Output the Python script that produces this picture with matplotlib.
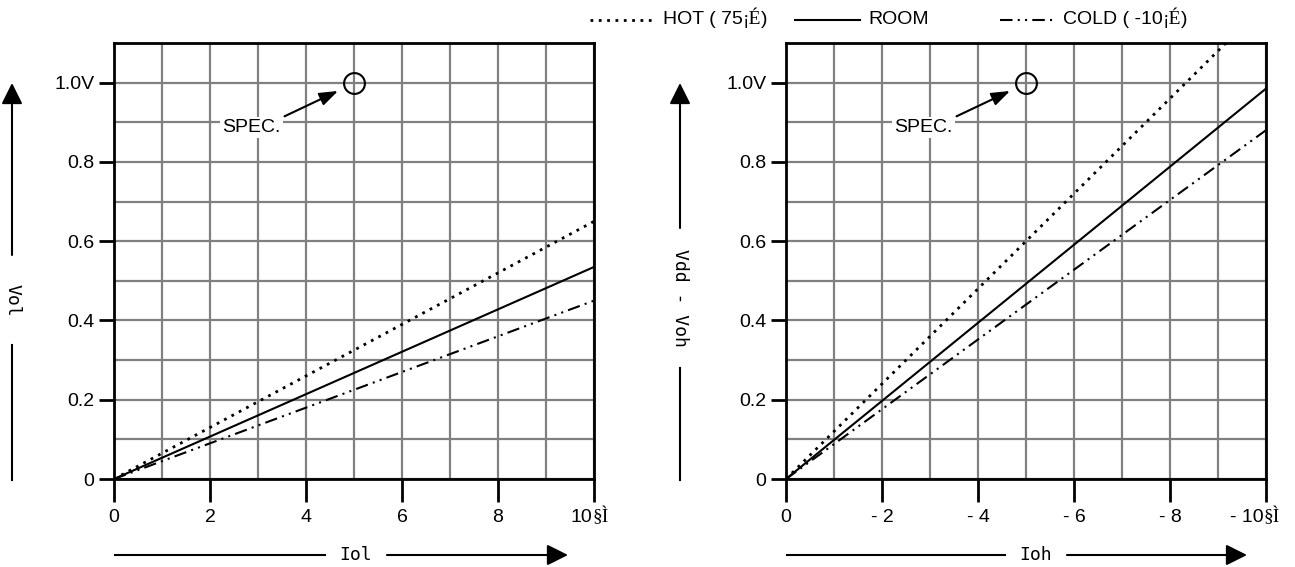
import matplotlib
matplotlib.use("Agg")
import matplotlib.pyplot as plt
from matplotlib.lines import Line2D
import numpy as np

# ---------------- data ----------------
x_pts = [0, 2, 4, 6, 8, 10]
left_hot = [0, 0.13, 0.26, 0.39, 0.52, 0.65]
left_room = [0, 0.107, 0.214, 0.321, 0.428, 0.535]
left_cold = [0, 0.09, 0.18, 0.27, 0.36, 0.45]
right_hot = [0, 0.24, 0.48, 0.72, 0.96, 1.20]
right_room = [0, 0.197, 0.394, 0.591, 0.788, 0.985]
right_cold = [0, 0.176, 0.352, 0.528, 0.704, 0.88]

xticks = [0, 2, 4, 6, 8, 10]
left_xticklabels = ["0", "2", "4", "6", "8", ""]
right_xticklabels = ["0", "- 2", "- 4", "- 6", "- 8", ""]
yticks = [0, 0.2, 0.4, 0.6, 0.8, 1.0]
yticklabels = ["0", "0.2", "0.4", "0.6", "0.8", "1.0V"]
spec_point = (5, 1.0)

W, H = 1295, 567
SANS = "Liberation Sans"
SERIF = "Liberation Serif"
MONO = "DejaVu Sans Mono"
FS = 14

fig = plt.figure(figsize=(W / 100, H / 100), dpi=100)

def fx(px):
    return px / W

def fy(py):
    return 1 - py / H

styles = {
    "hot": dict(color="black", lw=2.0, linestyle=(0, (1, 2))),
    "room": dict(color="black", lw=1.5, linestyle="-"),
    "cold": dict(color="black", lw=1.5, linestyle=(0, (6, 2.5, 1, 2.5, 1, 2.5))),
}

def make_axes(left_px, xtl, hot, room, cold):
    ax = fig.add_axes([fx(left_px), fy(479), 480 / W, 436 / H])
    ax.set_xlim(0, 10)
    ax.set_ylim(0, 1.1)
    ax.set_xticks(np.arange(0, 11, 1), minor=True)
    ax.set_yticks(np.arange(0, 1.11, 0.1), minor=True)
    ax.grid(which="both", color="#808080", lw=1.6)
    ax.tick_params(which="minor", length=0)
    ax.set_xticks(xticks)
    ax.set_xticklabels(xtl, fontsize=FS, fontfamily=SANS)
    ax.set_yticks(yticks)
    ax.set_yticklabels(yticklabels, fontsize=FS, fontfamily=SANS)
    ax.tick_params(axis="x", which="major", length=16.5, width=2, pad=5, direction="out")
    ax.tick_params(axis="y", which="major", length=11, width=2, pad=3, direction="out")
    for sp in ax.spines.values():
        sp.set_linewidth(2)
        sp.set_color("black")
    ax.set_axisbelow(True)
    ax.plot(x_pts, hot, **styles["hot"])
    ax.plot(x_pts, room, **styles["room"])
    ax.plot(x_pts, cold, **styles["cold"])
    # spec circle
    ax.plot([spec_point[0]], [spec_point[1]], marker="o", ms=15, mfc="none",
            mec="black", mew=1.5, clip_on=False)
    ax.annotate("", xy=(4.72, 0.982), xytext=(3.5, 0.912),
                arrowprops=dict(arrowstyle="-|>,head_length=0.7,head_width=0.25",
                                color="black", lw=1.5, mutation_scale=16))
    ax.text(2.25, 0.886, "SPEC.", fontsize=FS, fontfamily=SANS, va="center", ha="left",
            bbox=dict(facecolor="white", edgecolor="none", pad=1.5))
    return ax

axL = make_axes(114, left_xticklabels, left_hot, left_room, left_cold)
axR = make_axes(786, right_xticklabels, right_hot, right_room, right_cold)

# custom last tick labels with mixed fonts
for ax, lab in [(axL, "10"), (axR, "- 10")]:
    t = ax.annotate(lab, xy=(10, 0), xycoords=("data", "axes fraction"),
                    xytext=(-2, -30), textcoords="offset pixels",
                    ha="right", va="top", fontsize=FS, fontfamily=SANS)
    ax.annotate("§Ì", xy=(1, 0), xycoords=t, ha="left", va="bottom",
                fontsize=FS, fontfamily=SERIF)

# axis label arrows (figure pixel coords)
def hline_arrow(x0, xlab0, xlab1, x1, y, label):
    yy = H - y
    fig.add_artist(Line2D([fx(x0), fx(xlab0)], [yy / H, yy / H], color="black", lw=1.5))
    fig.patches  # noop
    axL.annotate("", xy=(x1, yy), xytext=(xlab1, yy), xycoords="figure pixels",
                 textcoords="figure pixels",
                 arrowprops=dict(arrowstyle="-|>,head_length=0.8,head_width=0.4",
                                 color="black", lw=1.5, mutation_scale=16, shrinkA=0, shrinkB=0))
    fig.text(fx((xlab0 + xlab1) / 2), yy / H, label, ha="center", va="center",
             fontsize=FS - 1, fontfamily=MONO)

def vline_arrow(x, y0, ylab0, ylab1, y1, label):
    fig.add_artist(Line2D([fx(x), fx(x)], [fy(y0), fy(ylab0)], color="black", lw=1.5))
    axL.annotate("", xy=(x, H - y1), xytext=(x, H - ylab1), xycoords="figure pixels",
                 textcoords="figure pixels",
                 arrowprops=dict(arrowstyle="-|>,head_length=0.8,head_width=0.4",
                                 color="black", lw=1.5, mutation_scale=16, shrinkA=0, shrinkB=0))
    fig.text(fx(x), fy((ylab0 + ylab1) / 2), label, ha="center", va="center",
             rotation=270, fontsize=FS - 1, fontfamily=MONO)

hline_arrow(115, 325, 387, 568, 555, "Iol")
hline_arrow(787, 1005, 1067, 1247, 555, "Ioh")
vline_arrow(12, 480, 345, 255, 83, "Vol")
vline_arrow(680, 480, 368, 228, 83, "Vdd - Voh")

# legend at top
leg_y = 20
def legend_entry(x0, x1, style, parts):
    fig.add_artist(Line2D([fx(x0), fx(x1)], [fy(leg_y), fy(leg_y)], **style))
    prev = None
    for txt, fam in parts:
        if prev is None:
            prev = fig.text(fx(x1 + 8), fy(leg_y), txt, ha="left", va="center",
                            fontsize=FS, fontfamily=fam)
        else:
            prev = fig.text(0, 0, txt, ha="left", va="bottom", fontsize=FS, fontfamily=fam)
            prev.remove()
            prev = axL.annotate(txt, xy=(1, 0), xycoords=last, ha="left", va="bottom",
                                fontsize=FS, fontfamily=fam, annotation_clip=False)
        last = prev

legend_entry(590, 655, styles["hot"], [("HOT ( 75", SANS), ("¡É", SERIF), (")", SANS)])
legend_entry(795, 860, styles["room"], [("ROOM", SANS)])
legend_entry(1000, 1055, styles["cold"], [("COLD ( -10", SANS), ("¡É", SERIF), (")", SANS)])

fig.savefig("out.png", dpi=100)
